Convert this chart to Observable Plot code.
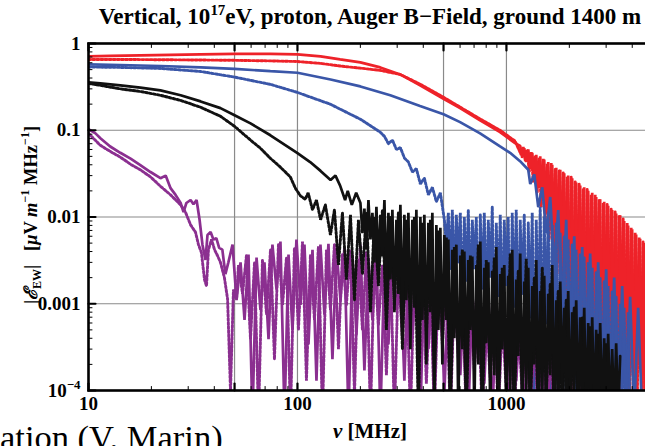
<!DOCTYPE html>
<html><head><meta charset="utf-8">
<script src="https://cdn.jsdelivr.net/npm/d3@7"></script>
<script src="https://cdn.jsdelivr.net/npm/@observablehq/plot@0.6"></script>
<style>
html,body{margin:0;padding:0;background:#fff;overflow:hidden;}
#wrap{position:relative;width:645px;height:446px;overflow:hidden;font-family:"Liberation Serif","Times New Roman",serif;color:#000;}
#chart{position:absolute;left:0;top:0;}
.lbl{position:absolute;white-space:nowrap;font-weight:bold;}
#title{left:0;width:740px;text-align:center;top:4px;font-size:23px;}
#xlab{left:0;width:740px;text-align:center;top:419px;font-size:21px;}
#ylab{left:29px;top:215px;font-size:18.5px;transform:translate(-50%,-50%) rotate(-90deg);}
#cap{left:0;top:418px;font-size:34.5px;font-weight:normal;}
sup,sub{font-size:0.65em;line-height:0;}
</style></head>
<body>
<div id="wrap">
<div id="chart"></div>
<div id="title" class="lbl">Vertical, 10<sup>17</sup>eV, proton, Auger B&minus;Field, ground 1400 m</div>
<div id="ylab" class="lbl">|<i>&#8496;</i><sub>EW</sub>|&nbsp;&nbsp;&nbsp;[<i>&mu;</i>V <i>m</i><sup>&minus;1</sup> MHz<sup>&minus;1</sup>]</div>
<div id="xlab" class="lbl"><i>&nu;</i> [MHz]</div>
<div id="cap" class="lbl">ation (V. Marin)</div>
</div>
<script>
// ---- axis definitions ----
const xTickValues = [10, 50, 100, 500, 1000, 5000];
const xTickLabels = ["10", "50", "100", "500", "1000", "5000"];
const xMinorTicks = [20, 30, 40, 60, 70, 80, 90, 200, 300, 400, 600, 700, 800, 900, 2000, 3000, 4000];
const yTickValues = [0.0001, 0.001, 0.01, 0.1, 1];
const yTickLabels = ["10\u207B\u2074", "0.001", "0.01", "0.1", "1"];
const yMinorTicks = [0.0002, 0.0003, 0.0004, 0.0005, 0.0006, 0.0007, 0.0008, 0.0009,
  0.002, 0.003, 0.004, 0.005, 0.006, 0.007, 0.008, 0.009,
  0.02, 0.03, 0.04, 0.05, 0.06, 0.07, 0.08, 0.09,
  0.2, 0.3, 0.4, 0.5, 0.6, 0.7, 0.8, 0.9];
const xGrid = [50, 100, 500, 1000];
const yGrid = [0.001, 0.01, 0.1];

// ---- series: [frequency MHz, |E| uV/m/MHz] ----
const redSolid = [[10,0.71],[12.7,0.72],[17.7,0.73],[24.7,0.74],[34.4,0.75],[50,0.76],[74.2,0.76],[100,0.75],[129,0.71],[160,0.655],[200,0.605],[249,0.53],[310,0.44],[386,0.33],[500,0.23],[600,0.18],[748,0.13],[932,0.095],[1100,0.071],
 [1164,0.066],[1190,0.048],[1217,0.062],[1244,0.043],[1272,0.06],[1300,0.036],[1329,0.055],[1359,0.028],[1389,0.052],[1420,0.022],[1451,0.05],[1484,0.016],[1516,0.046],[1550,0.011],[1585,0.043],[1620,0.007],[1656,0.04],[1693,0.0045],[1731,0.037],[1769,0.003],[1809,0.035],[1849,0.0018],[1890,0.032],[1932,0.0009],[1975,0.03],[2019,0.0004],[2064,0.028],[2110,0.00015],[2157,0.025],[2205,0.00005],[2254,0.023],[2304,0.0006],[2356,0.022],[2408,0.00005],[2462,0.02],[2516,0.0002],[2573,0.019],[2630,0.00005],[2688,0.017],[2748,0.0008],[2809,0.016],[2872,0.00005],[2936,0.015],[3001,0.0003],[3068,0.0135],[3136,0.00005],[3206,0.012],[3277,0.0001],[3350,0.011],[3425,0.00005],[3501,0.0105],[3579,0.0004],[3659,0.009],[3740,0.00005],[3823,0.008],[3908,0.00015],[3995,0.0072],[4084,0.00005],[4175,0.0063],[4268,0.0002],[4363,0.0056],[4460,0.00005],[4559,0.005],[4661,0.0001],[4764,0.0044],[4870,0.00005],[5000,0.0038]];
const redDotted = [[10,0.655],[14.2,0.655],[22.1,0.65],[34.4,0.645],[50,0.64],[74.2,0.63],[100,0.62],[129,0.59],[160,0.55],[200,0.52],[249,0.49],[310,0.44],[386,0.34],[500,0.24],[600,0.185],[748,0.135],[932,0.1],[1100,0.075],
 [1177,0.052],[1203,0.064],[1230,0.045],[1258,0.058],[1286,0.033],[1314,0.056],[1344,0.025],[1374,0.05],[1404,0.019],[1436,0.048],[1467,0.013],[1500,0.047],[1533,0.009],[1567,0.041],[1602,0.0055],[1638,0.042],[1674,0.0035],[1712,0.036],[1750,0.0022],[1789,0.034],[1829,0.0012],[1870,0.033],[1911,0.0006],[1953,0.029],[1997,0.00025],[2041,0.029],[2087,0.0001],[2133,0.026],[2181,0.0012],[2229,0.024],[2279,0.00005],[2330,0.021],[2382,0.0003],[2435,0.021],[2489,0.00005],[2544,0.018],[2601,0.0005],[2659,0.018],[2718,0.00005],[2778,0.016],[2840,0.0002],[2904,0.0145],[2968,0.00005],[3034,0.014],[3102,0.0006],[3171,0.0125],[3241,0.00005],[3313,0.0115],[3387,0.0002],[3463,0.0105],[3540,0.00005],[3619,0.0095],[3700,0.0003],[3782,0.0085],[3866,0.00005],[3951,0.0075],[4039,0.0001],[4129,0.0066],[4221,0.00005],[4315,0.0058],[4411,0.0002],[4509,0.0052],[4610,0.00005],[4713,0.0046],[4818,0.0001],[4925,0.004]];
const blueSolid = [[10,0.574],[14.2,0.565],[22.1,0.55],[34.4,0.53],[50,0.51],[74.2,0.48],[100,0.46],[144,0.385],[200,0.32],[278,0.253],[386,0.19],[500,0.153],[600,0.124],[748,0.092],[932,0.065],[1041,0.055],[1162,0.044],[1272,0.035],
 [1300,0.024],[1359,0.031],[1420,0.013],[1484,0.022],[1550,0.0065],[1620,0.017],[1693,0.0025],[1769,0.012],[1849,0.0007],[1932,0.0093],[2019,0.0002],[2110,0.006],[2205,0.00005],[2304,0.0045],[2408,0.00013],[2516,0.0038],[2630,0.00005],[2748,0.003],[2872,0.00009],[3001,0.0025],[3136,0.00005],[3277,0.002],[3425,0.00005],[3579,0.0016],[3740,0.00005],[3908,0.0012],[4084,0.00005],[4268,0.0009],[4460,0.00005]];
const blueDotted = [[10,0.536],[14.2,0.53],[22.1,0.516],[34.4,0.476],[50,0.41],[74.2,0.338],[100,0.273],[144,0.199],[200,0.134],[249,0.095],
 [260.7,0.085],[272.4,0.07],[284.6,0.077],[297.5,0.06],[310.8,0.063],[324.8,0.048],[339.5,0.043],[354.7,0.033],[370.7,0.036],[387.4,0.024],[404.8,0.028],[423,0.018],[442.1,0.022],[462,0.015],[482.8,0.019],[504.5,0.0093],
 [515.8,0.005],[527.2,0.0112],[539,0.0025],[550.9,0.0121],[563.3,0.0016],[575.7,0.0106],[588.6,0.003],[601.6,0.0112],[615.1,0.0008],[628.7,0.01],[642.8,0.0018],[657,0.0121],[671.7,0.0011],[686.6,0.0093],[702,0.0025],[717.5,0.01],[733.5,0.0004],[749.8,0.0106],[766.5,0.0015],[783.5,0.0112],[801,0.0008],[818.8,0.0093],[837.1,0.002],[855.6,0.0131],[874.8,0.0003],[894.2,0.0086],[914.1,0.0012],[934.4,0.0106],[955.3,0.0005],[976.4,0.0093],[998.2,0.0016],[1020,0.01],[1043,0.0002],[1066,0.0112],[1090,0.0009],[1114,0.0121],[1139,0.0004],[1164,0.0093],[1190,0.0013],[1217,0.0106],[1244,0.00017],[1272,0.0086],[1300,0.0007],[1329,0.0112],[1359,0.00009],[1389,0.0093],[1420,0.0005],[1451,0.0131],[1484,0.0002],[1516,0.01],[1550,0.0006],[1585,0.0112],[1620,0.00009],[1656,0.0081],[1693,0.0003],[1731,0.0086],[1769,0.00005],[1809,0.0066],[1849,0.0002],[1890,0.006],[1932,0.00005],[1975,0.0055],[2019,0.00013],[2064,0.0048],[2110,0.00005],[2157,0.0042],[2205,0.0001],[2254,0.0038],[2304,0.00005],[2356,0.0034],[2408,0.00009],[2462,0.003],[2516,0.00005],[2573,0.0026],[2630,0.00005],[2688,0.0023],[2748,0.00005],[2809,0.002],[2872,0.00005],[2936,0.0018],[3001,0.00005],[3068,0.0016],[3136,0.00005],[3206,0.0014],[3277,0.00005],[3350,0.0012],[3425,0.00005],[3501,0.001],[3579,0.00005],[3659,0.0009],[3740,0.00005],[3823,0.0008],[3908,0.00005]];
const blackSolid = [[10,0.356],[11.4,0.347],[14.2,0.329],[17.7,0.31],[22.1,0.288],[27.6,0.253],[34.4,0.215],[42.8,0.18],[50,0.149],[59.6,0.12],[74.2,0.0875],[100,0.0546],[115,0.043],[129,0.034],[144,0.0267],[152,0.03],[160,0.023],[169,0.0157],[174,0.02],[182,0.0138],[191,0.019],
 [200.1,0.0145],[204.6,0.0065],[209.1,0.0125],[213.8,0.0042],[218.6,0.0157],[223.5,0.0055],[228.4,0.0112],[233.5,0.003],[238.7,0.0131],[244,0.0025],[249.4,0.0106],[255,0.0035],[260.7,0.0157],[266.5,0.0015],[272.4,0.0112],[278.5,0.0019],[284.6,0.0121],[291,0.0008],[297.5,0.0093],[304.1,0.0013],[310.8,0.0138],[317.8,0.0005],[324.8,0.0106],[332.1,0.0011],[339.5,0.0112],[347.1,0.0003],[354.7,0.0093],[362.7,0.0009],[370.7,0.0121],[379,0.00015],[387.4,0.01],[396.1,0.00065],[404.8,0.0106],[413.9,0.0002],[423,0.0086],[432.5,0.0008],[442.1,0.0112],[452,0.00005],[462,0.0081],[472.3,0.0005],[482.8,0.0075],[493.6,0.0002],[504.5,0.0062],[515.8,0.00065],[527.2,0.0055],[539,0.00009],[550.9,0.0042],[563.3,0.0004],[575.7,0.0048],[588.6,0.00005],[601.6,0.0036],[615.1,0.0003],[628.7,0.004],[642.8,0.00012],[657,0.0032],[671.7,0.0005],[686.6,0.0035],[702,0.00005],[717.5,0.0028],[733.5,0.0002],[749.8,0.0052],[766.5,0.00005],[783.5,0.0026],[801,0.00035],[818.8,0.003],[837.1,0.00005],[855.6,0.0024],[874.8,0.00015],[894.2,0.0045],[914.1,0.00005],[934.4,0.0022],[955.3,0.0003],[976.4,0.0028],[998.2,0.00005],[1020,0.0021],[1043,0.0001],[1066,0.0042],[1090,0.00005],[1114,0.0019],[1139,0.00025],[1164,0.0038],[1190,0.00005],[1217,0.0018],[1244,0.0001],[1272,0.0026],[1300,0.00005],[1329,0.0016],[1359,0.0002],[1389,0.0032],[1420,0.00005],[1451,0.0014],[1484,0.00009],[1516,0.0021],[1550,0.00005],[1585,0.0013],[1620,0.00015],[1656,0.0028],[1693,0.00005],[1731,0.0011],[1769,0.00005],[1809,0.0018],[1849,0.0001],[1890,0.0009],[1932,0.00005],[1975,0.0014],[2019,0.00005],[2064,0.0008],[2110,0.00009],[2157,0.0011],[2205,0.00005],[2254,0.0007],[2304,0.00005],[2356,0.0009],[2408,0.00005],[2462,0.0006],[2516,0.00005],[2573,0.0007],[2630,0.00005],[2688,0.0005],[2748,0.00005],[2809,0.0006],[2872,0.00005],[2936,0.0004],[3001,0.00005],[3068,0.00045],[3136,0.00005],[3206,0.0003],[3277,0.00005],[3350,0.00035],[3425,0.00005],[3501,0.00025]];
const blackDotted = [[10,0.347],[11.4,0.329],[14.2,0.3],[17.7,0.28],[22.1,0.253],[27.6,0.221],[34.4,0.184],[42.8,0.145],[50,0.111],[59.6,0.077],[66.5,0.062],[74.2,0.0475],[82.8,0.0376],[92.4,0.029],[97.7,0.0215],[103.4,0.0175],[109,0.016],[112.5,0.019],[118,0.0121],[123.3,0.0157],[129,0.0093],[136,0.0138],
 [143.8,0.0062],[150.3,0.0121],[157.1,0.0028],[164.1,0.0112],[171.5,0.0019],[179.3,0.0106],[187.4,0.0011],[195.8,0.0093],[204.6,0.0022],[213.8,0.0112],[223.5,0.0008],[233.5,0.01],[244,0.0016],[255,0.0121],[266.5,0.0005],[278.5,0.01],[291,0.00097],[304.1,0.0112],[317.8,0.0003],[332.1,0.0093],[347.1,0.00065],[362.7,0.01],[379,0.00005],[396.1,0.0086],[413.9,0.00044],[432.5,0.0093],[452,0.00013],[472.3,0.007],[493.6,0.0005],[515.8,0.0058],[539,0.00005],[563.3,0.0045],[588.6,0.00034],[615.1,0.0042],[642.8,0.00005],[671.7,0.0036],[702,0.00023],[733.5,0.0048],[766.5,0.00005],[801,0.0032],[837.1,0.00015],[874.8,0.0034],[914.1,0.00005],[955.3,0.0026],[998.2,0.00012],[1043,0.0038],[1090,0.00005],[1139,0.0024],[1190,0.0001],[1244,0.0033],[1300,0.00005],[1359,0.002],[1420,0.00005],[1484,0.0026],[1550,0.00009],[1620,0.0017],[1693,0.00005],[1769,0.0014],[1849,0.00005],[1932,0.0011],[2019,0.00005],[2110,0.0009],[2205,0.00005],[2304,0.0007],[2408,0.00005],[2516,0.00055],[2630,0.00005],[2748,0.00045],[2872,0.00005],[3001,0.00035],[3136,0.00005]];
const purpleSolid = [[10,0.103],[10.8,0.092],[11.4,0.081],[12.7,0.065],[14.2,0.055],[15.9,0.047],[17.7,0.0397],[19.8,0.033],[22.1,0.028],[23.4,0.03],[24.7,0.0215],[26.1,0.018],[27.6,0.0145],[28.5,0.0114],[29.4,0.0145],[30.8,0.0157],[31.8,0.014],[32.9,0.0157],[34,0.0093],[35.1,0.0048],[36.3,0.0032],[37.1,0.0062],[38.4,0.0067],[39.6,0.0055],[40.9,0.0057],[42.2,0.0044],[43.7,0.0042],[45.2,0.0022],[46.7,0.003],
 [48.9,0.0048],[51.1,0.0011],[53.4,0.003],[55.8,0.00065],[58.3,0.0037],[60.9,0.00005],[63.7,0.0034],[66.5,0.00085],[69.5,0.003],[72.7,0.00039],[75.9,0.0048],[79.4,0.00145],[82.9,0.0052],[86.7,0.00005],[90.6,0.0037],[94.6,0.0005],[98.9,0.0055],[103.4,0.00097],[108,0.0048],[112.9,0.00034],[118,0.0042],[123.3,0.00013],[128.8,0.0048],[134.6,0.00075],[140.7,0.0049],[147,0.00023],[153.7,0.0042],[160.6,0.0011],[167.8,0.0044],[175.4,0.00005],[183.3,0.0037],[191.5,0.00044],[200.1,0.0048],[209.1,0.00017],[218.6,0.0034],[228.4,0.00065],[238.7,0.0042],[249.4,0.00005],[260.7,0.003],[272.4,0.00034],[284.6,0.0037],[297.5,0.00085],[310.8,0.0026],[324.8,0.00013],[339.5,0.0032],[354.7,0.00044],[370.7,0.0023],[387.4,0.00005],[404.8,0.0028],[423,0.0003],[442.1,0.0019],[462,0.00065],[482.8,0.0022],[504.5,0.00009],[527.2,0.0017],[550.9,0.00039],[575.7,0.0015],[601.6,0.00015],[628.7,0.0018],[657,0.00005],[686.6,0.0013],[717.5,0.0003],[749.8,0.0011],[783.5,0.00012],[818.8,0.0014],[855.6,0.00005],[894.2,0.00085],[934.4,0.00023],[976.4,0.00097],[1020,0.00005],[1066,0.00065],[1114,0.00013],[1164,0.00075],[1217,0.00005],[1272,0.0005],[1329,0.00015],[1389,0.00057],[1451,0.00005],[1516,0.00039],[1585,0.0001],[1656,0.00044],[1731,0.00005],[1809,0.0003],[1890,0.00005],[1975,0.00023],[2064,0.00005]];
const purpleDotted = [[10,0.092],[11.4,0.067],[12.7,0.057],[14.2,0.049],[15.9,0.0405],[17.7,0.035],[19.8,0.029],[22.1,0.0226],[24.7,0.018],[27.6,0.0138],[29.1,0.0114],[30.8,0.0081],[32.5,0.0067],[33.6,0.0048],[34.7,0.0039],[35.9,0.0019],[36.7,0.0016],[37.5,0.0042],[38.8,0.0055],[40.1,0.0042],[41.4,0.0036],[42.8,0.003],[44.7,0.002],[46.3,0.00113],[47.8,0.0001],[49.4,0.00146],[51.1,0.00113],[52.2,0.0028],
 [54.6,0.0013],[57,0.0036],[59.6,0.00039],[62.3,0.003],[65.1,0.00005],[68,0.0032],[71.1,0.00075],[74.3,0.0042],[77.6,0.00023],[81.1,0.0048],[84.8,0.00097],[88.6,0.0034],[92.6,0.00005],[96.7,0.0044],[101.1,0.0005],[105.7,0.0052],[110.4,0.00013],[115.4,0.0037],[120.6,0.00065],[126,0.0046],[131.7,0.00005],[137.6,0.0042],[143.8,0.00085],[150.3,0.0048],[157.1,0.0003],[164.1,0.0037],[171.5,0.00097],[179.3,0.0042],[187.4,0.00009],[195.8,0.0032],[204.6,0.0005],[213.8,0.0039],[223.5,0.00005],[233.5,0.0034],[244,0.00057],[255,0.0028],[266.5,0.00015],[278.5,0.0032],[291,0.00005],[304.1,0.0024],[317.8,0.00039],[332.1,0.0026],[347.1,0.00005],[362.7,0.0021],[379,0.0005],[396.1,0.0024],[413.9,0.00012],[432.5,0.0018],[452,0.00005],[472.3,0.002],[493.6,0.00034],[515.8,0.0016],[539,0.00005],[563.3,0.0014],[588.6,0.00023],[615.1,0.0012],[642.8,0.00005],[671.7,0.0011],[702,0.00017],[733.5,0.00097],[766.5,0.00005],[801,0.00075],[837.1,0.00013],[874.8,0.00085],[914.1,0.00005],[955.3,0.00065],[998.2,0.0001],[1043,0.0005],[1090,0.00005],[1139,0.00057],[1190,0.00009],[1244,0.00044],[1300,0.00005],[1359,0.00039],[1420,0.00005],[1484,0.0003],[1550,0.00005],[1620,0.00023],[1693,0.00005]];

const RED = "#ee2229", BLUE = "#3a56a8", BLACK = "#111111", PURPLE = "#8b2f90";
const rows = arr => arr.map(([f, v]) => ({f, v}));
const seriesList = [
  {data: redDotted, color: RED, dotted: true},
  {data: redSolid, color: RED, dotted: false},
  {data: blueDotted, color: BLUE, dotted: true},
  {data: blueSolid, color: BLUE, dotted: false},
  {data: purpleDotted, color: PURPLE, dotted: true},
  {data: purpleSolid, color: PURPLE, dotted: false},
  {data: blackDotted, color: BLACK, dotted: true},
  {data: blackSolid, color: BLACK, dotted: false}
];
const tickShape = {draw(c, l) { c.moveTo(0, 0); c.lineTo(0, -l); }};

const lineMarks = seriesList.map(s => Plot.line(rows(s.data), {
  x: "f", y: "v", stroke: s.color, clip: true,
  strokeWidth: s.dotted ? 2.9 : 2.7,
  strokeDasharray: s.dotted ? "2.2,1.9" : null,
  strokeLinejoin: "miter"
}));

const chart = Plot.plot({
  width: 660, height: 446,
  marginTop: 43, marginBottom: 56, marginLeft: 88, marginRight: 8,
  x: {type: "log", domain: [10, 5000]},
  y: {type: "log", domain: [0.0001, 1]},
  style: {fontFamily: "Liberation Serif, serif", fontSize: "19px", fontWeight: "bold", maxWidth: "none", background: "transparent", color: "black"},
  marks: [
    Plot.ruleX(xGrid, {stroke: "#8a8a8a", strokeWidth: 1.2}),
    Plot.ruleY(yGrid, {stroke: "#8a8a8a", strokeWidth: 1.2}),
    ...lineMarks,
    Plot.vector(yMinorTicks, {y: d => d, frameAnchor: "left", rotate: 90, length: 3.5, anchor: "start", shape: tickShape, stroke: "black", strokeWidth: 1}),
    Plot.vector(yTickValues, {y: d => d, frameAnchor: "left", rotate: 90, length: 7, anchor: "start", shape: tickShape, stroke: "black", strokeWidth: 2.2}),
    Plot.vector(xMinorTicks, {x: d => d, frameAnchor: "top", rotate: 180, length: 4, anchor: "start", shape: tickShape, stroke: "black", strokeWidth: 1}),
    Plot.vector(xTickValues, {x: d => d, frameAnchor: "top", rotate: 180, length: 7, anchor: "start", shape: tickShape, stroke: "black", strokeWidth: 2.2}),
    Plot.vector(xMinorTicks, {x: d => d, frameAnchor: "bottom", rotate: 0, length: 4, anchor: "start", shape: tickShape, stroke: "black", strokeWidth: 1}),
    Plot.vector(xTickValues, {x: d => d, frameAnchor: "bottom", rotate: 0, length: 7, anchor: "start", shape: tickShape, stroke: "black", strokeWidth: 2.2}),
    Plot.frame({stroke: "black", strokeWidth: 2.6}),
    Plot.axisX({ticks: xTickValues, tickFormat: d => xTickLabels[xTickValues.indexOf(d)], tickSize: 0, tickPadding: 6, label: null, fontSize: 19, fontWeight: "bold"}),
    Plot.axisY({ticks: yTickValues, tickFormat: d => yTickLabels[yTickValues.indexOf(d)], tickSize: 0, tickPadding: 8, label: null, fontSize: 19, fontWeight: "bold"})
  ]
});
document.getElementById("chart").appendChild(chart);

// render 10^-4 with a raised exponent
d3.select(chart).selectAll("text").each(function() {
  const t = d3.select(this);
  if (t.text() === "10\u207B\u2074") {
    t.text("10");
    t.append("tspan").attr("dy", "-0.55em").attr("font-size", "0.68em").text("\u22124");
  }
});
</script>
</body></html>
